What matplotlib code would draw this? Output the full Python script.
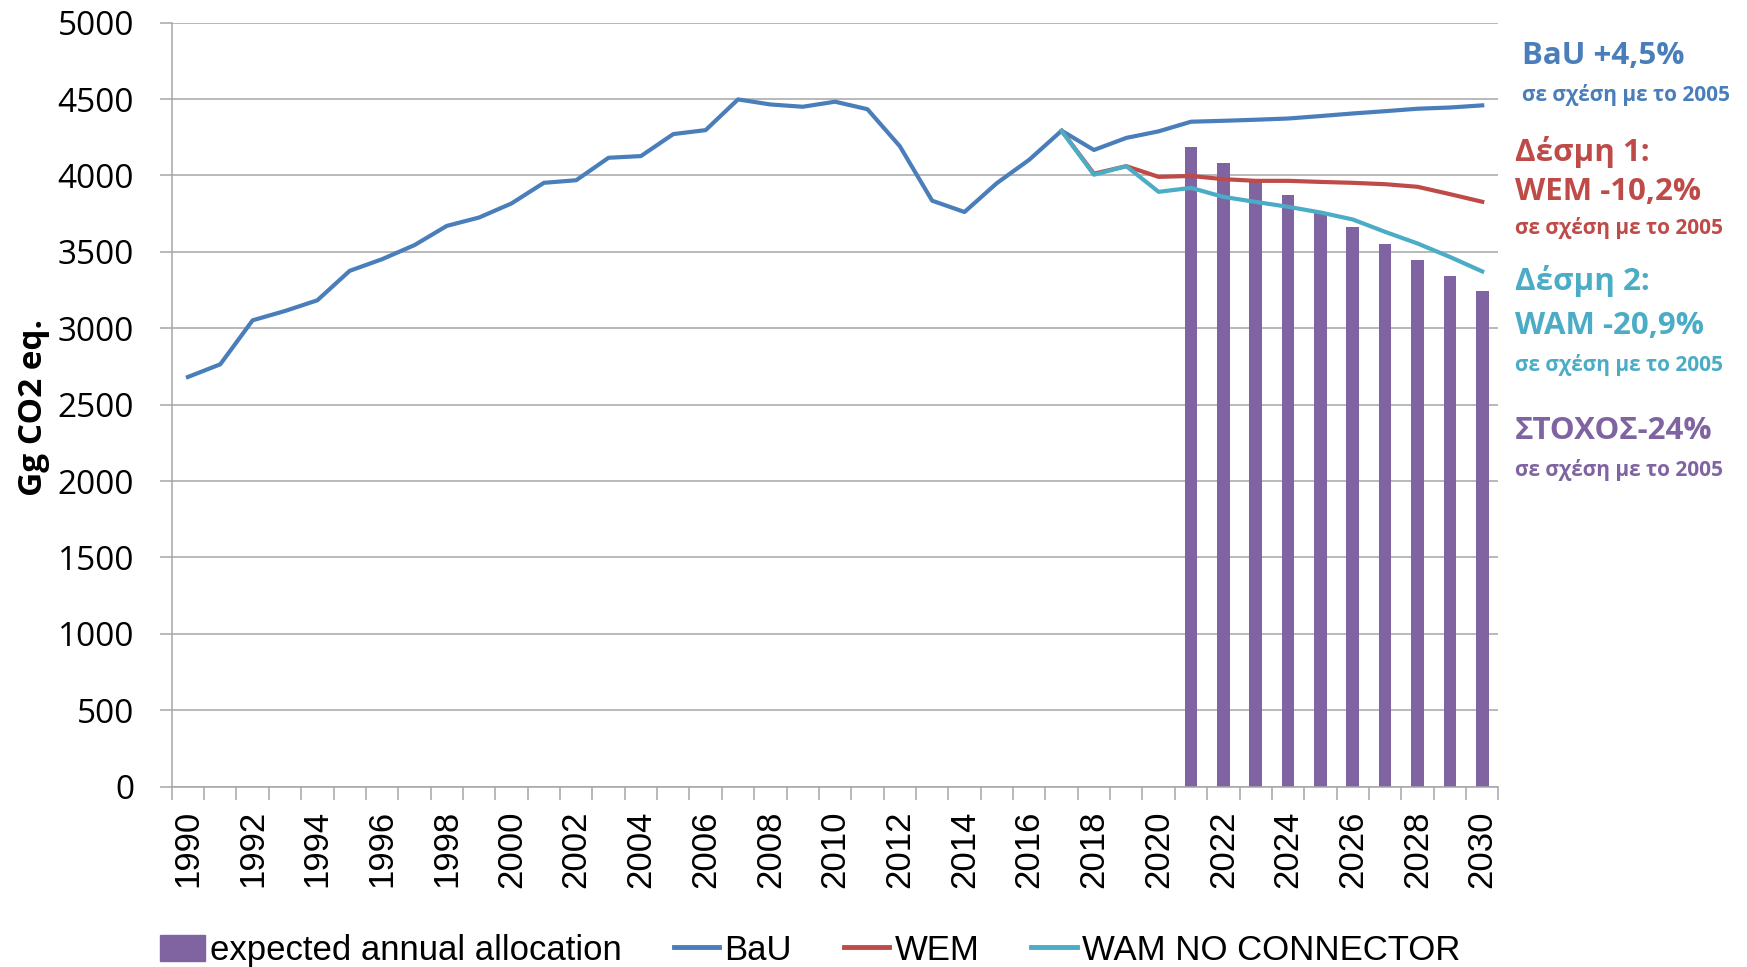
import numpy as np
import matplotlib
matplotlib.use('Agg')
import matplotlib.pyplot as plt
from matplotlib.lines import Line2D
from matplotlib.patches import Patch

# ---- data ----
years = list(range(1990, 2031))

bau = [2681, 2764, 3052, 3113, 3183, 3376, 3452, 3544, 3670, 3725,
       3817, 3952, 3969, 4116, 4127, 4271, 4297, 4498, 4465, 4450,
       4483, 4434, 4192, 3835, 3761, 3950, 4103, 4293, 4167, 4246,
       4289, 4352, 4358, 4365, 4373, 4389, 4406, 4421, 4437, 4445, 4459]

# WEM / WAM start in 2017
wem_years = list(range(2017, 2031))
wem = [4293, 4012, 4061, 3991, 3997, 3976, 3965, 3965, 3958, 3952, 3943, 3926, 3878, 3828]

wam_years = list(range(2017, 2031))
wam = [4293, 4005, 4061, 3893, 3919, 3860, 3827, 3795, 3758, 3712, 3631, 3555, 3467, 3372]

alloc_years = list(range(2021, 2031))
alloc = [4187, 4079, 3967, 3871, 3764, 3661, 3553, 3447, 3339, 3244]

c_bau = '#4A7EBB'
c_wem = '#BE4B48'
c_wam = '#4BACC6'
c_alloc = '#8064A2'

cal = ['Open Sans', 'DejaVu Sans']
arial = ['Liberation Sans', 'DejaVu Sans']
narrow = ['Liberation Sans Narrow', 'DejaVu Sans Condensed', 'Liberation Sans']

fig = plt.figure(figsize=(17.47, 9.67), dpi=100)
ax = fig.add_axes([0.0983, 0.1866, 0.7594, 0.7899])

idx = {y: i for i, y in enumerate(years)}

ax.bar([idx[y] for y in alloc_years], alloc, width=0.39, color=c_alloc, zorder=2)
ax.plot([idx[y] for y in years], bau, color=c_bau, lw=3.0, zorder=3)
ax.plot([idx[y] for y in wem_years], wem, color=c_wem, lw=3.0, zorder=3)
ax.plot([idx[y] for y in wam_years], wam, color=c_wam, lw=3.0, zorder=4)

ax.set_xlim(-0.5, len(years) - 0.5)
ax.set_ylim(0, 5000)
ax.set_yticks(np.arange(0, 5001, 500))
ax.grid(axis='y', color='#A6A6A6', lw=1.1, zorder=0)
ax.set_axisbelow(True)

# category ticks at boundaries, labels every second year
ax.set_xticks(np.arange(-0.5, len(years), 1.0))
ax.set_xticklabels([])
ax.set_xticks(np.arange(0, len(years), 2), minor=True)
ax.set_xticklabels([str(y) for y in years[::2]], minor=True, rotation=90,
                   fontsize=25, family=arial)
ax.tick_params(axis='x', which='major', length=9, width=1.1, color='#A6A6A6', direction='out')
ax.tick_params(axis='x', which='minor', length=0, pad=17)
ax.tick_params(axis='y', length=9, width=1.1, color='#A6A6A6', pad=18, labelsize=24)
for lab in ax.get_yticklabels():
    lab.set_family(cal)

for s in ['top', 'right']:
    ax.spines[s].set_visible(False)
for s in ['left', 'bottom']:
    ax.spines[s].set_color('#A6A6A6')
    ax.spines[s].set_linewidth(1.1)

fig.text(0.019, 0.579, 'Gg CO2 eq.', rotation=90, fontsize=24, fontweight='bold',
         family=cal, ha='center', va='center')

# annotations on the right
def note(x, y, s, c, size):
    fig.text(x / 1747, 1 - y / 967, s, color=c, fontsize=size, fontweight='bold',
             family=cal, ha='left', va='center')

big, small = 22.5, 15
note(1522, 56, 'BaU +4,5%', c_bau, big)
note(1522, 95, 'σε σχέση με το 2005', c_bau, small)
note(1515, 152, 'Δέσμη 1:', c_wem, big)
note(1515, 192, 'WEM -10,2%', c_wem, big)
note(1515, 228, 'σε σχέση με το 2005', c_wem, small)
note(1515, 281, 'Δέσμη 2:', c_wam, big)
note(1515, 326, 'WAM -20,9%', c_wam, big)
note(1515, 365, 'σε σχέση με το 2005', c_wam, small)
note(1515, 431, 'ΣΤΟΧΟΣ-24%', c_alloc, big)
note(1515, 470, 'σε σχέση με το 2005', c_alloc, small)

handles = [Patch(color=c_alloc),
           Line2D([], [], color=c_bau, lw=3.5),
           Line2D([], [], color=c_wem, lw=3.5),
           Line2D([], [], color=c_wam, lw=3.5)]
labels = ['expected annual allocation', 'BaU', 'WEM', 'WAM NO CONNECTOR']
fig.legend(handles, labels, loc='center', bbox_to_anchor=(0.4637, 0.017), ncol=4,
           frameon=False, handlelength=1.3, handleheight=0.8, handletextpad=0.15,
           columnspacing=1.5, prop={'family': narrow, 'size': 25})

fig.savefig('out.png', dpi=100)
